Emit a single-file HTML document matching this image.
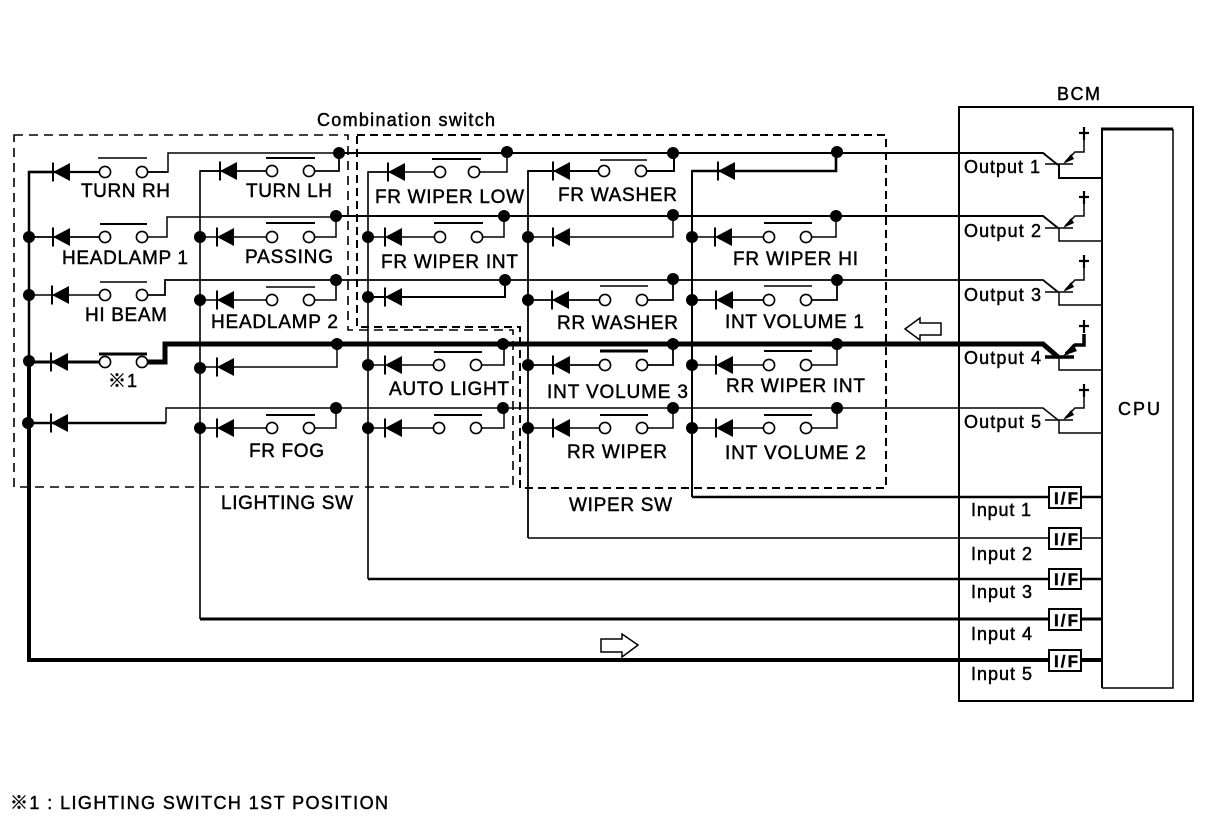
<!DOCTYPE html>
<html><head><meta charset="utf-8"><style>
html,body{margin:0;padding:0;background:#fff}
svg{display:block}
text{font-family:"Liberation Sans","Noto Sans CJK JP",sans-serif;font-size:19px;fill:#000;stroke:#000;stroke-width:.45px}
.s{font-size:18px}
.w{fill:none;stroke:#000;stroke-linejoin:miter}
</style></head><body>
<svg width="1216" height="822" viewBox="0 0 1216 822" xmlns="http://www.w3.org/2000/svg">
<defs>
<g id="d"><polygon points="0,0 17,-9 17,9" fill="#000"/><path d="M0,-9.5V9.5" stroke="#000" stroke-width="2"/></g>
<circle id="o" r="5.6" fill="#fff" stroke="#000" stroke-width="1.6"/>
<circle id="k" r="6" fill="#000"/>
</defs>
<rect width="1216" height="822" fill="#fff"/>

<!-- dashed boxes -->
<path class="w" stroke-width="1.6" stroke-dasharray="9 6" d="M14,135H348V330H513V487H14Z"/>
<path class="w" stroke-width="2" stroke-dasharray="8 5" d="M357,135H886V488H520V327H357Z"/>

<!-- buses and inputs -->
<path class="w" stroke-width="2.5" d="M29,361V172H53"/>
<path class="w" stroke-width="4" d="M29,361V660H1102"/>
<path class="w" stroke-width="1.6" d="M236,171H200V619"/>
<path class="w" stroke-width="3" d="M200,619H1102"/>
<path class="w" stroke-width="1.6" d="M404,172H368V579"/>
<path class="w" stroke-width="2.4" d="M368,579H1102"/>
<path class="w" stroke-width="1.8" d="M570,171H528V538"/>
<path class="w" stroke-width="1.5" d="M528,538H1102"/>
<path class="w" stroke-width="2" d="M692,497V171H836V153"/>
<path class="w" stroke-width="2.4" d="M692,497H1102"/>

<!-- horizontal output lines -->
<path class="w" stroke-width="1.5" d="M142,172H168V153H339"/>
<path class="w" stroke-width="2" d="M339,153H1043L1058,165"/>
<path class="w" stroke-width="1.5" d="M142,237H167V217H336"/>
<path class="w" stroke-width="2" d="M336,216H1043L1058,228"/>
<path class="w" stroke-width="1.8" d="M142,295H165V280H1043L1058,292"/>
<path class="w" stroke-width="5" d="M142,362H165V344H1043L1058,357"/>
<path class="w" stroke-width="1.5" d="M166,423V408H1043L1058,420"/>

<!-- row wires -->
<path class="w" stroke-width="2.2" d="M29,172H105"/>
<path class="w" stroke-width="1.8" d="M29,237H105"/>
<path class="w" stroke-width="1.5" d="M29,295H105"/>
<path class="w" stroke-width="3" d="M29,362H105"/>
<path class="w" stroke-width="2.4" d="M29,423H166"/>
<path class="w" stroke-width="1.8" d="M142,172H168M200,171H272M309,171H339V153"/>
<path class="w" stroke-width="1.5" d="M200,237H272M309,237H336V216"/>
<path class="w" stroke-width="1.6" d="M200,300H272M309,300H336V280"/>
<path class="w" stroke-width="1.5" d="M200,367H337V344"/>
<path class="w" stroke-width="1.5" d="M200,428H272M309,428H336V408"/>
<path class="w" stroke-width="1.5" d="M368,172H440M477,172H507V152"/>
<path class="w" stroke-width="1.5" d="M368,237H440M477,237H504V216"/>
<path class="w" stroke-width="2" d="M368,297H505V280"/>
<path class="w" stroke-width="1.6" d="M368,365H439M476,365H504V344"/>
<path class="w" stroke-width="1.5" d="M368,428H439M476,428H504V408"/>
<path class="w" stroke-width="2" d="M528,171H604M641,171H674V153"/>
<path class="w" stroke-width="1.5" d="M528,237H673V215"/>
<path class="w" stroke-width="1.8" d="M528,300H605M642,300H673V279"/>
<path class="w" stroke-width="1.8" d="M528,365H605M642,365H673V344"/>
<path class="w" stroke-width="1.5" d="M528,428H605M642,428H673V408"/>
<path class="w" stroke-width="2.6" d="M692,171H836V153"/>
<path class="w" stroke-width="1.5" d="M692,237H769M806,237H836V216"/>
<path class="w" stroke-width="1.8" d="M692,300H769M806,300H837V280"/>
<path class="w" stroke-width="1.5" d="M692,365H769M806,365H837V344"/>
<path class="w" stroke-width="1.5" d="M692,428H769M806,428H837V408"/>

<!-- diodes -->
<use href="#d" x="53" y="172"/><use href="#d" x="53" y="237"/><use href="#d" x="52" y="295"/><use href="#d" x="51" y="362"/><use href="#d" x="51" y="423"/>
<use href="#d" x="220" y="171"/><use href="#d" x="217" y="237"/><use href="#d" x="217" y="300"/><use href="#d" x="217" y="367"/><use href="#d" x="217" y="428"/>
<use href="#d" x="388" y="172"/><use href="#d" x="385" y="237"/><use href="#d" x="385" y="297"/><use href="#d" x="385" y="365"/><use href="#d" x="385" y="428"/>
<use href="#d" x="553" y="171"/><use href="#d" x="553" y="237"/><use href="#d" x="552" y="300"/><use href="#d" x="553" y="365"/><use href="#d" x="553" y="428"/>
<use href="#d" x="718" y="171"/><use href="#d" x="715" y="237"/><use href="#d" x="716" y="300"/><use href="#d" x="716" y="365"/><use href="#d" x="716" y="428"/>

<!-- switch contacts -->
<use href="#o" x="105" y="172"/><use href="#o" x="142" y="172"/><use href="#o" x="105" y="237"/><use href="#o" x="142" y="237"/><use href="#o" x="105" y="295"/><use href="#o" x="142" y="295"/><use href="#o" x="105" y="362"/><use href="#o" x="142" y="362"/>
<use href="#o" x="272" y="171"/><use href="#o" x="309" y="171"/><use href="#o" x="272" y="237"/><use href="#o" x="309" y="237"/><use href="#o" x="272" y="300"/><use href="#o" x="309" y="300"/><use href="#o" x="272" y="428"/><use href="#o" x="309" y="428"/>
<use href="#o" x="440" y="172"/><use href="#o" x="474" y="172"/><use href="#o" x="440" y="237"/><use href="#o" x="477" y="237"/><use href="#o" x="439" y="365"/><use href="#o" x="476" y="365"/><use href="#o" x="439" y="428"/><use href="#o" x="476" y="428"/>
<use href="#o" x="604" y="171"/><use href="#o" x="641" y="171"/><use href="#o" x="605" y="300"/><use href="#o" x="642" y="300"/><use href="#o" x="605" y="365"/><use href="#o" x="642" y="365"/><use href="#o" x="605" y="428"/><use href="#o" x="642" y="428"/>
<use href="#o" x="769" y="237"/><use href="#o" x="806" y="237"/><use href="#o" x="769" y="300"/><use href="#o" x="806" y="300"/><use href="#o" x="769" y="365"/><use href="#o" x="806" y="365"/><use href="#o" x="769" y="428"/><use href="#o" x="806" y="428"/>

<!-- switch bars -->
<path class="w" stroke-width="1.5" d="M98,158H147M100,282H147M600,286H648M600,160H647M266,287H315M764,286H812"/>
<path class="w" stroke-width="2" d="M100,224H147M266,158H315M266,223H315M266,415H315M432,159H481M434,223H483M434,352H482M434,415H482M600,415H648M764,223H812M764,351H812M764,415H812"/>
<path class="w" stroke-width="3" d="M99,354H147M600,351H648"/>

<!-- junction dots -->
<use href="#k" x="339" y="153"/><use href="#k" x="507" y="152"/><use href="#k" x="673" y="153"/><use href="#k" x="837" y="152"/>
<use href="#k" x="336" y="216"/><use href="#k" x="504" y="216"/><use href="#k" x="673" y="215"/><use href="#k" x="836" y="216"/>
<use href="#k" x="336" y="280"/><use href="#k" x="505" y="280"/><use href="#k" x="673" y="279"/><use href="#k" x="837" y="280"/>
<use href="#k" x="337" y="344"/><use href="#k" x="503" y="344"/><use href="#k" x="673" y="344"/><use href="#k" x="837" y="344"/>
<use href="#k" x="336" y="408"/><use href="#k" x="503" y="408"/><use href="#k" x="673" y="408"/><use href="#k" x="837" y="408"/>
<use href="#k" x="29" y="237"/><use href="#k" x="29" y="295"/><use href="#k" x="29" y="361"/><use href="#k" x="28" y="423"/>
<use href="#k" x="200" y="237"/><use href="#k" x="200" y="300"/><use href="#k" x="200" y="368"/><use href="#k" x="200" y="428"/>
<use href="#k" x="368" y="237"/><use href="#k" x="368" y="297"/><use href="#k" x="368" y="365"/><use href="#k" x="368" y="428"/>
<use href="#k" x="528" y="237"/><use href="#k" x="528" y="300"/><use href="#k" x="528" y="365"/><use href="#k" x="528" y="428"/>
<use href="#k" x="692" y="237"/><use href="#k" x="692" y="300"/><use href="#k" x="692" y="365"/><use href="#k" x="692" y="428"/>

<!-- hollow arrows -->
<polygon points="905,329 920,318 920,323 941,323 941,335 920,335 920,340" fill="#fff" stroke="#000" stroke-width="1.5"/>
<polygon points="638,645 622,634 622,639 601,639 601,652 622,652 622,657" fill="#fff" stroke="#000" stroke-width="1.5"/>

<!-- BCM -->
<rect x="959" y="107" width="234" height="594" fill="none" stroke="#000" stroke-width="2"/>
<path class="w" stroke-width="1.5" d="M1173,129V688H1102"/>
<path class="w" stroke-width="2" d="M1102,688V129"/>
<path class="w" stroke-width="3" d="M1101,129H1173"/>
<g fill="#fff" stroke="#000" stroke-width="2">
<rect x="1049" y="487" width="32" height="21"/>
<rect x="1049" y="528" width="32" height="21"/>
<rect x="1049" y="569" width="32" height="20"/>
<rect x="1049" y="609" width="32" height="21"/>
<rect x="1049" y="650" width="32" height="21"/>
</g>

<!-- transistors -->
<path class="w" stroke-width="1.5" d="M1045,164H1073M1084,140V152H1075L1065,162"/>
<path class="w" stroke-width="2" d="M1059,164V178H1102"/>
<path class="w" stroke-width="1.5" d="M1045,228H1073M1084,203V216H1075L1065,226M1059,228V241H1102"/>
<path class="w" stroke-width="1.5" d="M1045,292H1073M1084,268V280H1075L1065,290M1059,292V305H1102"/>
<path class="w" stroke-width="1.5" d="M1059,357V370H1102M1059,420V433H1102"/>
<path class="w" stroke-width="3.5" d="M1045,357H1074M1084,334V345H1075L1066,354"/>
<path class="w" stroke-width="1.5" d="M1045,420H1073M1084,396V408H1075L1065,418"/>
<g fill="#000">
<polygon points="1063,164 1071,154 1074,159"/><polygon points="1063,228 1071,218 1074,223"/><polygon points="1063,292 1071,282 1074,287"/><polygon points="1063,356 1073,344 1077,351"/><polygon points="1063,420 1071,410 1074,415"/>
</g>
<path class="w" stroke-width="2.2" d="M1079,133H1089M1084,127V140M1079,197H1089M1084,191V204M1079,261H1089M1084,255V268M1079,326H1089M1084,320V333M1079,390H1089M1084,384V397"/>

<!-- labels -->
<text x="81" y="197" textLength="89">TURN RH</text>
<text x="246" y="197" textLength="86">TURN LH</text>
<text x="62" y="264" textLength="126">HEADLAMP 1</text>
<text x="245" y="263" textLength="88">PASSING</text>
<text x="85" y="321" textLength="82">HI BEAM</text>
<text x="211" y="328" textLength="127">HEADLAMP 2</text>
<text x="108" y="387" textLength="29" class="s">※1</text>
<text x="249" y="457" textLength="75">FR FOG</text>
<text x="221" y="509" textLength="132">LIGHTING SW</text>
<text x="375" y="203" textLength="149">FR WIPER LOW</text>
<text x="381" y="268" textLength="137">FR WIPER INT</text>
<text x="558" y="201" textLength="119">FR WASHER</text>
<text x="557" y="329" textLength="121">RR WASHER</text>
<text x="389" y="395" textLength="120">AUTO LIGHT</text>
<text x="547" y="398" textLength="141">INT VOLUME 3</text>
<text x="567" y="458" textLength="100">RR WIPER</text>
<text x="569" y="511" textLength="103">WIPER SW</text>
<text x="733" y="265" textLength="125">FR WIPER HI</text>
<text x="725" y="328" textLength="139">INT VOLUME 1</text>
<text x="726" y="392" textLength="139">RR WIPER INT</text>
<text x="725" y="459" textLength="141">INT VOLUME 2</text>
<text x="317" y="126" textLength="178" class="s">Combination switch</text>
<text x="1057" y="100" textLength="43" class="s">BCM</text>
<text x="964" y="173" textLength="76" class="s">Output 1</text>
<text x="964" y="237" textLength="77" class="s">Output 2</text>
<text x="964" y="301" textLength="77" class="s">Output 3</text>
<text x="964" y="364" textLength="77" class="s">Output 4</text>
<text x="964" y="428" textLength="77" class="s">Output 5</text>
<text x="1118" y="415" textLength="42" class="s">CPU</text>
<text x="971" y="516" textLength="60" class="s">Input 1</text>
<text x="971" y="560" textLength="61" class="s">Input 2</text>
<text x="971" y="598" textLength="61" class="s">Input 3</text>
<text x="971" y="640" textLength="61" class="s">Input 4</text>
<text x="971" y="680" textLength="61" class="s">Input 5</text>
<g>
<text x="1054" y="504" textLength="24" style="font-size:17px;font-weight:bold">I/F</text>
<text x="1054" y="545" textLength="24" style="font-size:17px;font-weight:bold">I/F</text>
<text x="1054" y="585" textLength="24" style="font-size:17px;font-weight:bold">I/F</text>
<text x="1054" y="626" textLength="24" style="font-size:17px;font-weight:bold">I/F</text>
<text x="1054" y="667" textLength="24" style="font-size:17px;font-weight:bold">I/F</text>
</g>
<text x="10" y="809" textLength="378" class="s">※1 : LIGHTING SWITCH 1ST POSITION</text>
</svg>
</body></html>
